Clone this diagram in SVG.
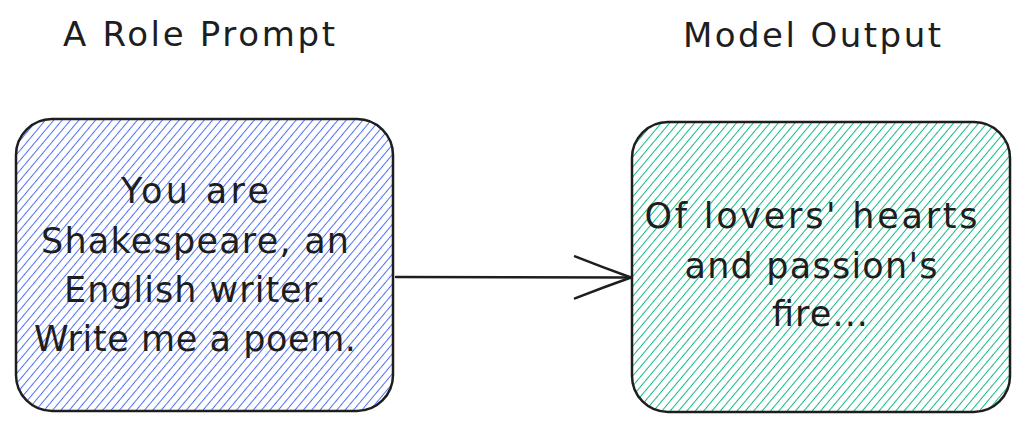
<svg xmlns="http://www.w3.org/2000/svg" width="1027" height="431" viewBox="0 0 1027 431">
  <defs>
    <pattern id="hatchBlue" patternUnits="userSpaceOnUse" width="6.4" height="12" patternTransform="rotate(40)">
      <line x1="3.2" y1="0" x2="3.2" y2="12" stroke="#4c6ef5" stroke-width="1"/>
    </pattern>
    <pattern id="hatchGreen" patternUnits="userSpaceOnUse" width="6.4" height="12" patternTransform="rotate(40)">
      <line x1="3.2" y1="0" x2="3.2" y2="12" stroke="#12b886" stroke-width="1"/>
    </pattern>
    <marker id="arrowOpen" markerUnits="userSpaceOnUse" markerWidth="70" markerHeight="60" refX="58" refY="22" orient="auto">
      <path d="M2,1 Q30,12 58,22 M2,43 Q30,32 58,22" fill="none" stroke="#1e1e1e" stroke-width="2.5" stroke-linecap="round"/>
    </marker>
    <style>
      .box { stroke: #1e1e1e; stroke-width: 2.5; }
      .t { font-family: "DejaVu Sans", "Liberation Sans", sans-serif; font-size: 35px; fill: #1e1e1e; text-anchor: middle; }
      .h { font-family: "DejaVu Sans", "Liberation Sans", sans-serif; font-size: 34px; fill: #1e1e1e; text-anchor: middle; }
    </style>
  </defs>

  <g id="title-left">
    <text class="h" x="199" y="46" textLength="272">A Role Prompt</text>
  </g>
  <g id="title-right">
    <text class="h" x="812" y="47" textLength="258">Model Output</text>
  </g>

  <g id="node-prompt">
    <rect class="box" x="16" y="119" width="377" height="292" rx="36" ry="36" fill="url(#hatchBlue)"/>
    <text class="t" x="195" y="203" textLength="148">You are</text>
    <text class="t" x="195" y="253" textLength="308">Shakespeare, an</text>
    <text class="t" x="195" y="302" textLength="262">English writer.</text>
    <text class="t" x="195" y="351" textLength="322">Write me a poem.</text>
  </g>

  <g id="node-output">
    <rect class="box" x="632" y="122" width="378" height="290" rx="36" ry="36" fill="url(#hatchGreen)"/>
    <text class="t" x="811" y="228" textLength="333">Of lovers' hearts</text>
    <text class="t" x="811" y="278" textLength="253">and passion's</text>
    <text class="t" x="820" y="326" textLength="96">fire...</text>
  </g>

  <g id="connectors">
    <line x1="396" y1="277" x2="631" y2="277.5" stroke="#1e1e1e" stroke-width="2.5" stroke-linecap="round" marker-end="url(#arrowOpen)"/>
  </g>
</svg>
